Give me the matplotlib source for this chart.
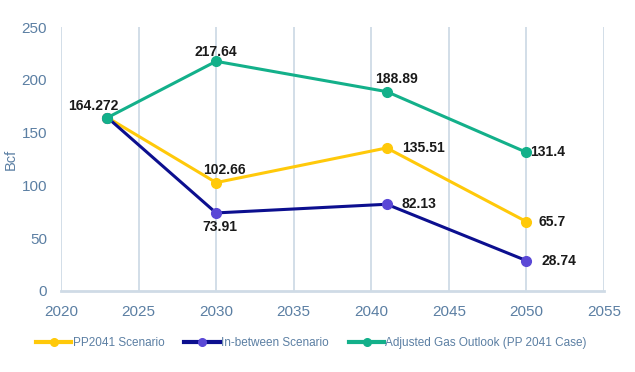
import matplotlib
matplotlib.use("Agg")
import matplotlib.pyplot as plt
from matplotlib.lines import Line2D

years = [2023, 2030, 2041, 2050]
pp2041 = [164.272, 102.66, 135.51, 65.7]
inbetween = [164.272, 73.91, 82.13, 28.74]
adjusted = [164.272, 217.64, 188.89, 131.4]
series_names = ["PP2041 Scenario", "In-between Scenario", "Adjusted Gas Outlook (PP 2041 Case)"]
x_ticks = [2020, 2025, 2030, 2035, 2040, 2045, 2050, 2055]
y_ticks = [0, 50, 100, 150, 200, 250]

plt.rcParams['font.family'] = ['Liberation Sans', 'DejaVu Sans']

fig = plt.figure(figsize=(6.35, 3.72), dpi=100)
ax = fig.add_axes([0.096, 0.218, 0.855, 0.709])

tick_color = '#5b7fa3'
grid_color = '#cfdbe6'
c_pp, c_in_line, c_in_mk, c_adj = '#ffc90a', '#0c0f8f', '#5a48d6', '#13b08a'

ax.plot(years, pp2041, color=c_pp, lw=2.2, marker='o', ms=7,
        markerfacecolor=c_pp, markeredgecolor=c_pp, zorder=3)
ax.plot(years, inbetween, color=c_in_line, lw=2.2, marker='o', ms=7,
        markerfacecolor=c_in_mk, markeredgecolor=c_in_mk, zorder=4)
ax.plot(years, adjusted, color=c_adj, lw=2.2, marker='o', ms=7,
        markerfacecolor=c_adj, markeredgecolor=c_adj, zorder=5)

ax.set_xlim(2020, 2055)
ax.set_ylim(0, 250)
ax.set_xticks(x_ticks)
ax.set_yticks(y_ticks)
ax.grid(axis='x', color=grid_color, lw=1.3)
ax.set_axisbelow(True)
for s in ['top', 'right', 'left']:
    ax.spines[s].set_visible(False)
ax.spines['bottom'].set_color(grid_color)
ax.spines['bottom'].set_linewidth(2)
ax.tick_params(axis='both', length=0, colors=tick_color)
ax.tick_params(axis='x', labelsize=11, pad=10)
ax.tick_params(axis='y', labelsize=11, pad=10)
ax.set_ylabel('Bcf', color=tick_color, fontsize=10.5)
ax.yaxis.set_label_coords(-(61 - 18) / (0.855 * 635), 0.5)

lab = dict(fontsize=10, fontweight='bold', color='#1a1a1a', zorder=6)
def put(x, y, txt, dx, dy, ha='center', va='center'):
    ax.annotate(txt, (x, y), xytext=(dx, dy), textcoords='offset points', ha=ha, va=va, **lab)

def fmt(v):
    return f"{v:g}"

# adjusted labels
put(years[0], adjusted[0], fmt(adjusted[0]), -10, 8)
put(years[1], adjusted[1], fmt(adjusted[1]), 0, 7)
put(years[2], adjusted[2], fmt(adjusted[2]), 7, 9)
put(years[3], adjusted[3], fmt(adjusted[3]), 3, 0.5, ha='left')
# pp2041 labels
put(years[1], pp2041[1], fmt(pp2041[1]), 6, 9)
put(years[2], pp2041[2], fmt(pp2041[2]), 11, 0, ha='left')
put(years[3], pp2041[3], fmt(pp2041[3]), 9, 0, ha='left')
# in-between labels
put(years[1], inbetween[1], fmt(inbetween[1]), 3, -10)
put(years[2], inbetween[2], fmt(inbetween[2]), 11, 0, ha='left')
put(years[3], inbetween[3], fmt(inbetween[3]), 11, 0, ha='left')

handles = [
    Line2D([], [], color=c_pp, lw=3, marker='o', ms=5.5, mfc=c_pp, mec=c_pp),
    Line2D([], [], color=c_in_line, lw=3, marker='o', ms=5.5, mfc=c_in_mk, mec=c_in_mk),
    Line2D([], [], color=c_adj, lw=3, marker='o', ms=5.5, mfc=c_adj, mec=c_adj),
]
leg = fig.legend(handles, series_names, loc='center', ncol=3,
                 bbox_to_anchor=(311.5 / 635, 1 - 343 / 372), frameon=False, fontsize=8.5,
                 handlelength=3.0, handletextpad=0.1, columnspacing=1.7)
for t in leg.get_texts():
    t.set_color(tick_color)

fig.savefig('out.png', dpi=100)
